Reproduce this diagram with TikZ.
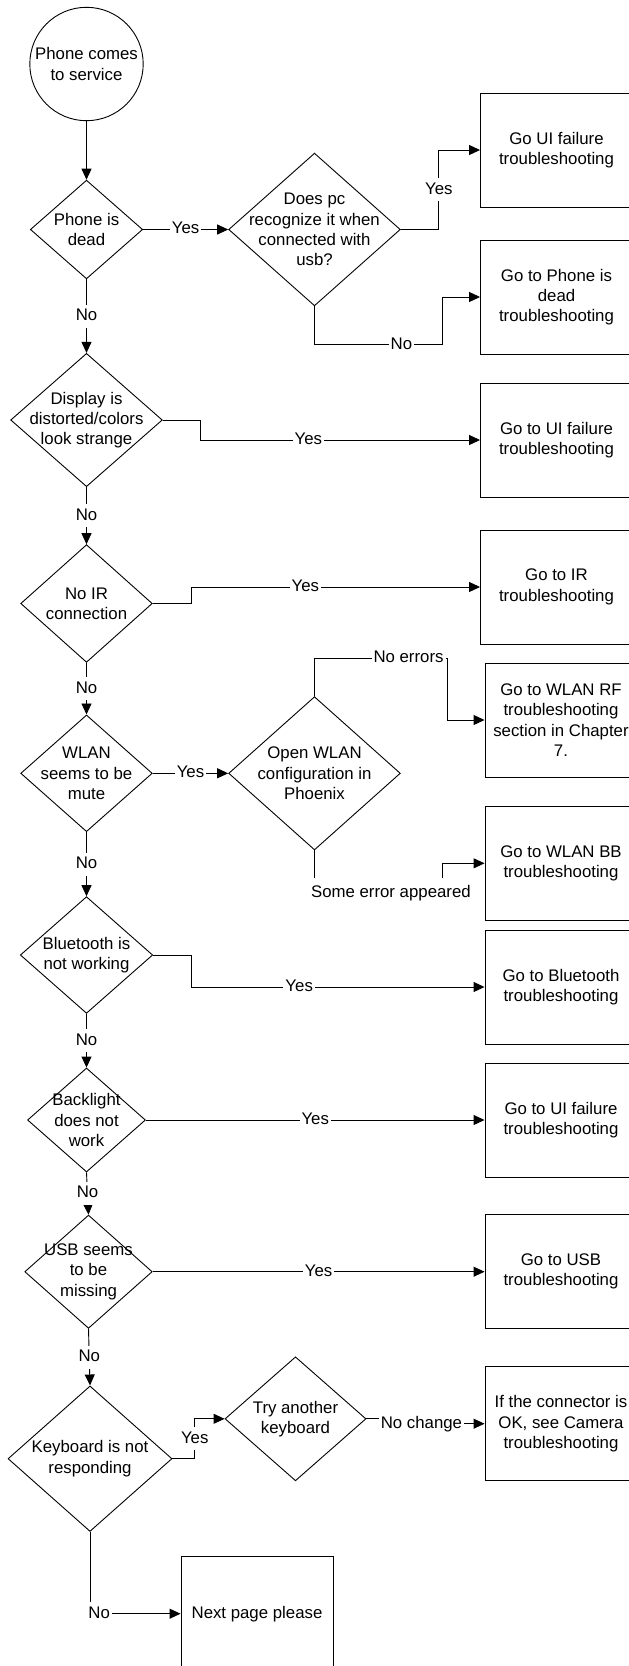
\documentclass[tikz,border=0pt]{standalone}
\usepackage{fontspec}
\setmainfont{Liberation Sans}
\usetikzlibrary{shapes.geometric,arrows.meta}
\begin{document}
\begin{tikzpicture}[x=1pt,y=-1pt,
  every node/.style={font=\fontsize{16.8}{20.3}\selectfont},
  flow/.style={draw=black, line width=0.9pt},
  arr/.style={flow, -{Triangle[length=11pt,width=10pt]}},
  decision/.style n args={2}{diamond, draw, line width=0.9pt,
    minimum width=#1, minimum height=#2, inner sep=0pt},
  target/.style={rectangle, draw, line width=0.9pt, minimum width=152pt,
    minimum height=114pt, inner sep=0pt, align=center},
  start/.style={circle, draw, line width=0.9pt, minimum size=113.4pt, inner sep=0pt},
  words/.style={align=center},
  lab/.style={fill=white, inner xsep=2pt, inner ysep=3.5pt,
    text height=12.3pt, text depth=3.5pt}
]
\fill[white] (0,0) rectangle (629,1666);
\useasboundingbox (0,0) rectangle (629,1666);
\clip (0,0) rectangle (629,1666);

% start and decisions
\node[start, label={[words]center:{Phone comes\\to service}}] (c0) at (86.5,64) {};
\node[decision={112.3pt}{98.7pt}, label={[words]center:{Phone is\\dead}}] (d1) at (86.5,229.5) {};
\node[decision={171.7pt}{152.7pt}, label={[words]center:{Does pc\\recognize it when\\connected with\\usb?}}] (d2) at (314.5,229.5) {};
\node[decision={151.7pt}{133.3pt}, label={[words]center:{Display is\\distorted/colors\\look strange}}] (d3) at (86.5,420) {};
\node[decision={131.6pt}{117.7pt}, label={[words]center:{No IR\\connection}}] (d4) at (86.5,603.5) {};
\node[decision={131.6pt}{116.7pt}, label={[words]center:{WLAN\\seems to be\\mute}}] (d5) at (86.5,773.3) {};
\node[decision={171.7pt}{153.3pt}, label={[words]center:{Open WLAN\\configuration in\\Phoenix}}] (d6) at (314.5,773.3) {};
\node[decision={132.4pt}{116.7pt}, label={[words]center:{Bluetooth is\\not working}}] (d7) at (86.5,955) {};
\node[decision={118pt}{104pt}, label={[words]center:{Backlight\\does not\\work}}] (d8) at (86.5,1120) {};
\node[decision={127.5pt}{113.3pt}, label={[words]center:{USB seems\\to be\\missing}}] (d9) at (88.5,1271.7) {};
\node[decision={164pt}{145.5pt}, label={[words]center:{Keyboard is not\\responding}}] (d10) at (90,1458.7) {};
\node[decision={141pt}{124pt}, label={[words]center:{Try another\\keyboard}}] (d11) at (295.5,1418.8) {};

% targets
\node[target] (b1) at (556.5,150) {Go UI failure\\troubleshooting};
\node[target] (b2) at (556.5,297) {Go to Phone is\\dead\\troubleshooting};
\node[target] (b3) at (556.5,440) {Go to UI failure\\troubleshooting};
\node[target] (b4) at (556.5,587) {Go to IR\\troubleshooting};
\node[target] (b5) at (561,720) {Go to WLAN RF\\troubleshooting\\section in Chapter\\7.};
\node[target] (b6) at (561,863.3) {Go to WLAN BB\\troubleshooting};
\node[target] (b7) at (561,987) {Go to Bluetooth\\troubleshooting};
\node[target] (b8) at (561,1120) {Go to UI failure\\troubleshooting};
\node[target] (b9) at (561,1271.7) {Go to USB\\troubleshooting};
\node[target] (b10) at (561,1423.7) {If the connector is\\OK, see Camera\\troubleshooting};
\node[target] (b11) at (257,1613.7) {Next page please};

% bends
\coordinate (k2) at (442.4,344.7);
\coordinate (k6a) at (447.3,658.3);
\coordinate (k6b) at (442.7,892.7);

% connectors
\draw[arr] (c0.south) -- (d1.north);
\draw[arr] (d1.east) -- node[lab,midway]{Yes} (d2.west);
\draw[arr] (d2.east) -- ++(38,0) |- node[lab,pos=0.25]{Yes} (b1.west);
\draw[arr] (d2.south) |- node[lab,pos=0.84]{No} (k2) |- (b2.west);
\draw[arr] (d1.south) -- node[lab,midway]{No} (d3.north);
\draw[arr] (d3.east) -- ++(37.7,0) |- node[lab,pos=0.693]{Yes} (b3.west);
\draw[arr] (d3.south) -- node[lab,midway]{No} (d4.north);
\draw[arr] (d4.east) -- ++(38.5,0) |- node[lab,pos=0.6975]{Yes} (b4.west);
\draw[arr] (d4.south) -- node[lab,midway]{No} (d5.north);
\draw[arr] (d5.east) -- node[lab,midway]{Yes} (d6.west);
\draw[arr] (d6.north) |- node[lab,pos=0.854]{No errors} (k6a) |- (b5.west);
\draw[arr] (d6.south) |- node[lab,pos=0.798,inner ysep=6.5pt]{Some error appeared} (k6b) |- (b6.west);
\draw[arr] (d5.south) -- node[lab,midway]{No} (d7.north);
\draw[arr] (d7.east) -- ++(38.1,0) |- node[lab,pos=0.684]{Yes} (b7.west);
\draw[arr] (d7.south) -- node[lab,midway]{No} (d8.north);
\draw[arr] (d8.east) -- node[lab,midway]{Yes} (b8.west);
\draw[arr] (d8.south) -- node[lab,midway]{No} (d9.north);
\draw[arr] (d9.east) -- node[lab,midway]{Yes} (b9.west);
\draw[arr] (d9.south) -- node[lab,midway]{No} (d10.north);
\draw[arr] (d10.east) -- ++(22.3,0) |- node[lab,pos=0.25]{Yes} (d11.west);
\draw[arr] (d11.east) -- ++(55,0) |- node[lab,pos=0.5]{No change} (b10.west);
\draw[arr] (d10.south) |- node[lab,pos=0.5,anchor=west,xshift=-4pt]{No} (b11.west);
\end{tikzpicture}
\end{document}
